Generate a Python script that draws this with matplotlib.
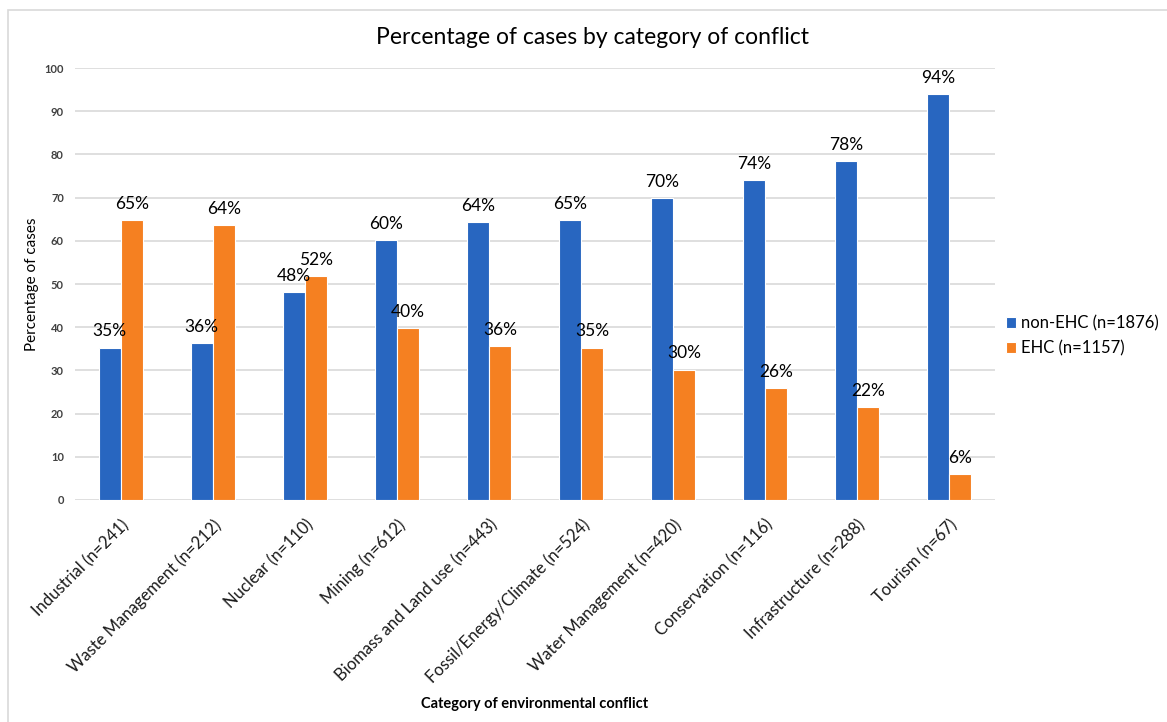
import matplotlib
matplotlib.use("Agg")
import matplotlib.pyplot as plt
import numpy as np
from matplotlib.patches import Rectangle

# data
categories = ["Industrial (n=241)", "Waste Management (n=212)", "Nuclear (n=110)",
              "Mining (n=612)", "Biomass and Land use (n=443)", "Fossil/Energy/Climate (n=524)",
              "Water Management (n=420)", "Conservation (n=116)", "Infrastructure (n=288)",
              "Tourism (n=67)"]
non_ehc = [35.3, 36.3, 48.2, 60.1, 64.3, 64.7, 69.8, 74.1, 78.5, 94.0]
ehc = [64.7, 63.7, 51.8, 39.9, 35.7, 35.3, 30.2, 25.9, 21.5, 6.0]
series_names = ["non-EHC (n=1876)", "EHC (n=1157)"]
y_ticks = list(range(0, 101, 10))

BLUE = "#2866C0"
ORANGE = "#F58021"
GRID = "#D9D9D9"

plt.rcParams["font.family"] = ["Lato", "DejaVu Sans"]

fig = plt.figure(figsize=(11.67, 7.22), dpi=100)
fig.patches.append(Rectangle((8 / 1167, -0.1), 1.2, 1.1 - 10 / 722, transform=fig.transFigure,
                             fill=False, edgecolor=GRID, linewidth=1.2))

ax = fig.add_axes([75 / 1167, 1 - 500 / 722, 920 / 1167, 432 / 722])

x = np.arange(len(categories))
w = 0.235
off = 0.122
b1 = ax.bar(x - off, non_ehc, w, color=BLUE, edgecolor="white", linewidth=0.8,
            label=series_names[0], zorder=3)
b2 = ax.bar(x + off, ehc, w, color=ORANGE, edgecolor="white", linewidth=0.8,
            label=series_names[1], zorder=3)

for bars, vals in ((b1, non_ehc), (b2, ehc)):
    for rect, v in zip(bars, vals):
        ax.annotate(f"{round(v)}%", (rect.get_x() + rect.get_width() / 2, v),
                    xytext=(0, 8), textcoords="offset points", ha="center",
                    va="baseline", fontsize=12.5, color="#000000")

ax.set_xlim(-0.5, len(categories) - 0.5)
ax.set_ylim(0, 100)
ax.set_yticks(y_ticks)
ax.yaxis.grid(True, color=GRID, linewidth=1.2, zorder=0)
ax.set_axisbelow(True)
for s in ax.spines.values():
    s.set_visible(False)
ax.tick_params(axis="both", length=0)
ax.tick_params(axis="y", pad=8, labelsize=8, labelcolor="#404040")
for t in ax.get_yticklabels():
    t.set_fontweight("bold")

ax.set_xticks(x)
ax.set_xticklabels(categories, rotation=45, ha="right", rotation_mode="anchor",
                   fontsize=12, color="#1a1a1a")
ax.tick_params(axis="x", pad=12)

ax.set_ylabel("Percentage of cases", fontsize=11, color="#000000", labelpad=4)
ax.set_xlabel("Category of environmental conflict", fontsize=10.5, fontweight="bold")
ax.xaxis.set_label_coords(0.5, -0.455)

fig.text(593 / 1167, 1 - 38 / 722, "Percentage of cases by category of conflict",
         ha="center", va="center", fontsize=16.5, color="#000000")

ax.legend(loc="center left", bbox_to_anchor=(1.005, 0.38), frameon=False,
          fontsize=12, handlelength=0.6, handleheight=0.6, handletextpad=0.3,
          labelspacing=0.55, borderaxespad=0)

fig.savefig("out.png", dpi=100)
